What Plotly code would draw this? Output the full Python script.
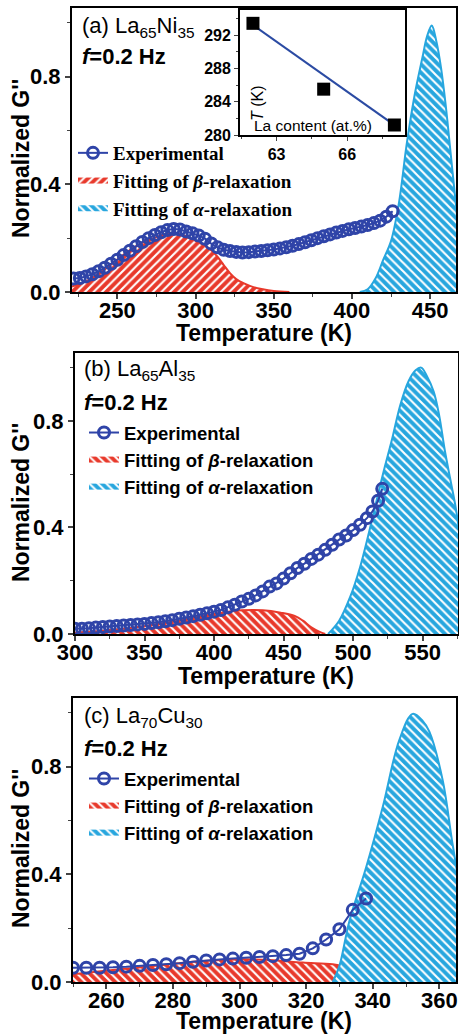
import plotly.graph_objects as go

W, H = 459, 1036
def px(x):
    return x / W
def py(y):
    return 1 - y / H

# ---------------- Panel (a) La65Ni35 ----------------
a_exp_T = [222, 226, 230, 234, 238, 242, 246, 250, 254, 258, 262, 266, 270, 274, 278, 282, 286, 290,
           294, 298, 302, 306, 310, 314, 318, 322, 326, 330, 334, 338, 342, 346, 350, 354, 358, 362,
           366, 370, 374, 378, 382, 386, 390, 394, 398, 402, 406, 410, 414, 418, 422, 426]
a_exp_G = [0.050, 0.052, 0.058, 0.066, 0.077, 0.090, 0.105, 0.120, 0.137, 0.153, 0.170, 0.186, 0.200,
           0.212, 0.222, 0.230, 0.234, 0.232, 0.225, 0.218, 0.210, 0.198, 0.180, 0.166, 0.157, 0.152,
           0.149, 0.147, 0.148, 0.150, 0.152, 0.155, 0.158, 0.162, 0.166, 0.172, 0.178, 0.185, 0.192,
           0.200, 0.207, 0.214, 0.221, 0.227, 0.233, 0.238, 0.243, 0.249, 0.256, 0.265, 0.280, 0.300]
a_beta_T = [221, 230, 241, 252, 262, 273, 284, 294, 300, 305, 310, 314, 318, 322, 326, 331, 337, 343, 350, 360]
a_beta_G = [0.020, 0.040, 0.080, 0.130, 0.170, 0.200, 0.219, 0.207, 0.190, 0.175, 0.155, 0.131, 0.100,
            0.070, 0.048, 0.032, 0.018, 0.010, 0.004, 0.000]
a_alpha_T = [405, 410, 415, 420, 425, 430, 435, 440, 445, 448, 451, 454, 457, 460, 463, 466, 470, 475]
a_alpha_G = [0.000, 0.010, 0.050, 0.120, 0.190, 0.330, 0.550, 0.730, 0.870, 0.950, 0.990, 0.930, 0.830,
             0.690, 0.520, 0.350, 0.150, 0.030]

# inset of (a): peak temperature vs La content
ins_La = [62, 65, 68]
ins_T = [293.4, 285.5, 281.2]
ins_fit_La = [62, 68.2]
ins_fit_T = [293.2, 280.8]

# ---------------- Panel (b) La65Al35 ----------------
b_exp_T = [300, 305, 310, 315, 320, 325, 330, 335, 340, 345, 350, 355, 360, 365, 370, 375, 380, 385,
           390, 395, 400, 405, 410, 415, 420, 425, 430, 435, 440, 445, 450, 455, 460, 465, 470, 475,
           480, 485, 490, 495, 500, 505, 510, 514, 518, 521]
b_exp_G = [0.020, 0.020, 0.022, 0.024, 0.026, 0.028, 0.030, 0.032, 0.034, 0.036, 0.038, 0.041, 0.044,
           0.048, 0.052, 0.057, 0.062, 0.067, 0.072, 0.078, 0.084, 0.090, 0.100, 0.110, 0.122, 0.132,
           0.145, 0.160, 0.178, 0.190, 0.208, 0.228, 0.248, 0.264, 0.282, 0.298, 0.316, 0.335, 0.355,
           0.370, 0.390, 0.410, 0.435, 0.460, 0.500, 0.545]
b_beta_T = [300, 320, 344, 368, 392, 410, 420, 435, 448, 458, 464, 470, 476, 480]
b_beta_G = [0.005, 0.012, 0.025, 0.044, 0.068, 0.084, 0.089, 0.089, 0.080, 0.068, 0.050, 0.025, 0.008, 0.000]
b_alpha_T = [482, 490, 498, 505, 510, 516, 522, 528, 534, 540, 545, 549, 553, 558, 562, 566, 570, 574, 580, 586]
b_alpha_G = [0.000, 0.050, 0.140, 0.250, 0.350, 0.480, 0.610, 0.730, 0.860, 0.950, 0.990, 1.000, 0.970,
             0.910, 0.820, 0.690, 0.580, 0.470, 0.250, 0.040]

# ---------------- Panel (c) La70Cu30 ----------------
c_exp_T = [250, 254, 258, 262, 266, 270, 274, 278, 282, 286, 290, 294, 298, 302, 306, 310, 314, 318,
           322, 326, 330, 334, 338]
c_exp_G = [0.053, 0.053, 0.053, 0.055, 0.057, 0.060, 0.063, 0.066, 0.070, 0.075, 0.080, 0.084, 0.087,
           0.090, 0.093, 0.096, 0.100, 0.105, 0.125, 0.158, 0.196, 0.268, 0.310]
c_beta_T = [250, 259, 269, 279, 289, 299, 309, 319, 328, 334, 340, 346]
c_beta_G = [0.029, 0.041, 0.053, 0.066, 0.078, 0.084, 0.082, 0.072, 0.066, 0.050, 0.025, 0.000]
c_alpha_T = [328, 330, 333, 338, 343, 348, 352, 355, 357, 361, 364, 367, 371, 375]
c_alpha_G = [0.000, 0.060, 0.227, 0.425, 0.650, 0.900, 0.996, 0.970, 0.930, 0.750, 0.510, 0.300, 0.100, 0.000]

EXP_BLUE = "#2f44a8"
RED = "#e8392b"
CYAN = "#27a6de"
SANS = "Liberation Sans, Arial, sans-serif"
SERIF = "Liberation Serif, Times New Roman, serif"

fig = go.Figure()

panels = [
    dict(ax="", leg="legend", T=a_exp_T, G=a_exp_G, bT=a_beta_T, bG=a_beta_G, aT=a_alpha_T, aG=a_alpha_G,
         bshape="/"),
    dict(ax="2", leg="legend2", T=b_exp_T, G=b_exp_G, bT=b_beta_T, bG=b_beta_G, aT=b_alpha_T, aG=b_alpha_G,
         bshape="\\"),
    dict(ax="3", leg="legend3", T=c_exp_T, G=c_exp_G, bT=c_beta_T, bG=c_beta_G, aT=c_alpha_T, aG=c_alpha_G,
         bshape="\\"),
]

for p in panels:
    xa = "x" + p["ax"]
    ya = "y" + p["ax"]
    # beta fit (hatched red)
    fig.add_trace(go.Scatter(
        x=p["bT"], y=p["bG"], xaxis=xa, yaxis=ya, mode="none", fill="tozeroy", line_shape="spline",
        fillpattern=dict(shape=p["bshape"], bgcolor=RED, fgcolor="white", size=6, solidity=0.35),
        name="Fitting of <i>β</i>-relaxation", legend=p["leg"], legendrank=2))
    fig.add_trace(go.Scatter(
        x=p["bT"], y=p["bG"], xaxis=xa, yaxis=ya, mode="lines", line=dict(color=RED, width=2, shape="spline"),
        showlegend=False, hoverinfo="skip"))
    # alpha fit (hatched cyan)
    fig.add_trace(go.Scatter(
        x=p["aT"], y=p["aG"], xaxis=xa, yaxis=ya, mode="none", fill="tozeroy", line_shape="spline",
        fillpattern=dict(shape="\\", bgcolor=CYAN, fgcolor="white", size=6, solidity=0.35),
        name="Fitting of <i>α</i>-relaxation", legend=p["leg"], legendrank=3))
    fig.add_trace(go.Scatter(
        x=p["aT"], y=p["aG"], xaxis=xa, yaxis=ya, mode="lines", line=dict(color=CYAN, width=2, shape="spline"),
        showlegend=False, hoverinfo="skip"))
    # experimental
    fig.add_trace(go.Scatter(
        x=p["T"], y=p["G"], xaxis=xa, yaxis=ya, mode="lines+markers",
        line=dict(color=EXP_BLUE, width=2),
        marker=dict(symbol="circle-open", size=11, line=dict(color=EXP_BLUE, width=3), color=EXP_BLUE),
        name="Experimental", legend=p["leg"], legendrank=1))

# inset traces
fig.add_trace(go.Scatter(x=ins_fit_La, y=ins_fit_T, xaxis="x4", yaxis="y4", mode="lines",
                         line=dict(color="#2b4ba3", width=2.2), showlegend=False))
fig.add_trace(go.Scatter(x=ins_La, y=ins_T, xaxis="x4", yaxis="y4", mode="markers",
                         marker=dict(symbol="square", size=13, color="black"), showlegend=False))

tickfont = dict(family=SANS, size=22, color="black", weight="bold")
titlefont = dict(family=SANS, size=23, color="black", weight="bold")

def xax(domain, rng, dtick, mdtick, anchor):
    return dict(domain=domain, range=rng, dtick=dtick, tick0=0, ticks="outside", ticklen=5, tickwidth=1.5,
                showline=True, linewidth=2, linecolor="black", mirror=True, showgrid=False, zeroline=False,
                tickfont=tickfont, anchor=anchor, automargin=False, ticklabelstandoff=-7,
                minor=dict(dtick=mdtick, ticks="outside", ticklen=3, tickwidth=1.2, showgrid=False))

def yax(domain, anchor):
    return dict(domain=domain, range=[0, 1.055], dtick=0.4, tick0=0, ticks="outside", ticklen=5, tickwidth=1.5,
                showline=True, linewidth=2, linecolor="black", mirror=True, showgrid=False, zeroline=False,
                tickfont=tickfont, tickformat=".1f", anchor=anchor, automargin=False,
                minor=dict(dtick=0.2, ticks="outside", ticklen=3, tickwidth=1.2, showgrid=False))

fig.update_layout(
    template="none",
    width=W, height=H, margin=dict(l=0, r=0, t=0, b=0, autoexpand=False),
    paper_bgcolor="white", plot_bgcolor="white", showlegend=True,
    xaxis=xax([px(72), px(456)], [221, 466.5], 50, 25, "y"),
    yaxis=yax([py(292), py(8)], "x"),
    xaxis2=xax([px(75), px(458)], [300, 575.5], 50, 25, "y2"),
    yaxis2=yax([py(634), py(353)], "x2"),
    xaxis3=xax([px(73), px(456)], [250, 365], 20, 10, "y3"),
    yaxis3=yax([py(982), py(698)], "x3"),
    xaxis4=dict(domain=[px(240), px(405)], range=[61.45, 68.45], dtick=3, tick0=0, anchor="y4",
                ticks="outside", ticklen=4, tickwidth=1.2, showline=True, linewidth=1.8, linecolor="black",
                mirror=True, showgrid=False, zeroline=False, automargin=False,
                tickfont=dict(family=SANS, size=16, color="black", weight="bold"),
                minor=dict(dtick=1.5, ticks="outside", ticklen=2, showgrid=False)),
    yaxis4=dict(domain=[py(135), py(10)], range=[280, 295], dtick=4, tick0=0, anchor="x4",
                ticks="outside", ticklen=4, tickwidth=1.2, showline=True, linewidth=1.8, linecolor="black",
                mirror=True, showgrid=False, zeroline=False, automargin=False,
                tickfont=dict(family=SANS, size=16, color="black", weight="bold"),
                minor=dict(dtick=2, ticks="outside", ticklen=2, showgrid=False)),
    legend=dict(x=px(73), y=py(134), xanchor="left", yanchor="top", bgcolor="rgba(0,0,0,0)",
                font=dict(family=SERIF, size=19, color="black", weight="bold"), itemwidth=30,
                tracegroupgap=0),
    legend2=dict(x=px(84), y=py(414), xanchor="left", yanchor="top", bgcolor="rgba(0,0,0,0)",
                 font=dict(family=SANS, size=18.5, color="black", weight="bold"), itemwidth=30,
                 tracegroupgap=0),
    legend3=dict(x=px(84), y=py(760), xanchor="left", yanchor="top", bgcolor="rgba(0,0,0,0)",
                 font=dict(family=SANS, size=18.5, color="black", weight="bold"), itemwidth=30,
                 tracegroupgap=0),
)

# axis titles
for xc, yc in [(264, 333), (266, 676), (264, 1021)]:
    fig.add_annotation(text="Temperature (K)", x=px(xc), y=py(yc), xref="paper", yref="paper",
                       xanchor="center", yanchor="middle", showarrow=False, font=titlefont)
for yc in [159, 503, 849]:
    fig.add_annotation(text="Normalized G''", x=px(21), y=py(yc), xref="paper", yref="paper",
                       xanchor="center", yanchor="middle", textangle=-90, showarrow=False, font=titlefont)

labels = [
    ("(a) La<sub>65</sub>Ni<sub>35</sub>", 80, 27, 56),
    ("(b) La<sub>65</sub>Al<sub>35</sub>", 82, 370, 402),
    ("(c) La<sub>70</sub>Cu<sub>30</sub>", 82, 717, 748),
]
for text, x0, yl, yf in labels:
    fig.add_annotation(text=text, x=px(x0), y=py(yl), xref="paper", yref="paper", xanchor="left",
                       yanchor="middle", showarrow=False, font=dict(family=SANS, size=22, color="black"))
    fig.add_annotation(text="<i>f</i>=0.2 Hz", x=px(x0), y=py(yf), xref="paper", yref="paper",
                       xanchor="left", yanchor="middle", showarrow=False,
                       font=dict(family=SANS, size=22, color="black", weight="bold"))

# inset axis labels (drawn inside the inset frame)
fig.add_annotation(text="<i>T</i> (K)", x=px(257), y=py(83), xref="paper", yref="paper", textangle=-90,
                   showarrow=False, font=dict(family=SANS, size=16, color="black"))
fig.add_annotation(text="La content (at.%)", x=px(252), y=py(125), xref="paper", yref="paper",
                   xanchor="left", yanchor="middle", showarrow=False,
                   font=dict(family=SANS, size=15.5, color="black"))

fig.write_html("out.html", config={"displayModeBar": False},
               post_script="document.body.style.margin='0';document.body.style.padding='0';")
